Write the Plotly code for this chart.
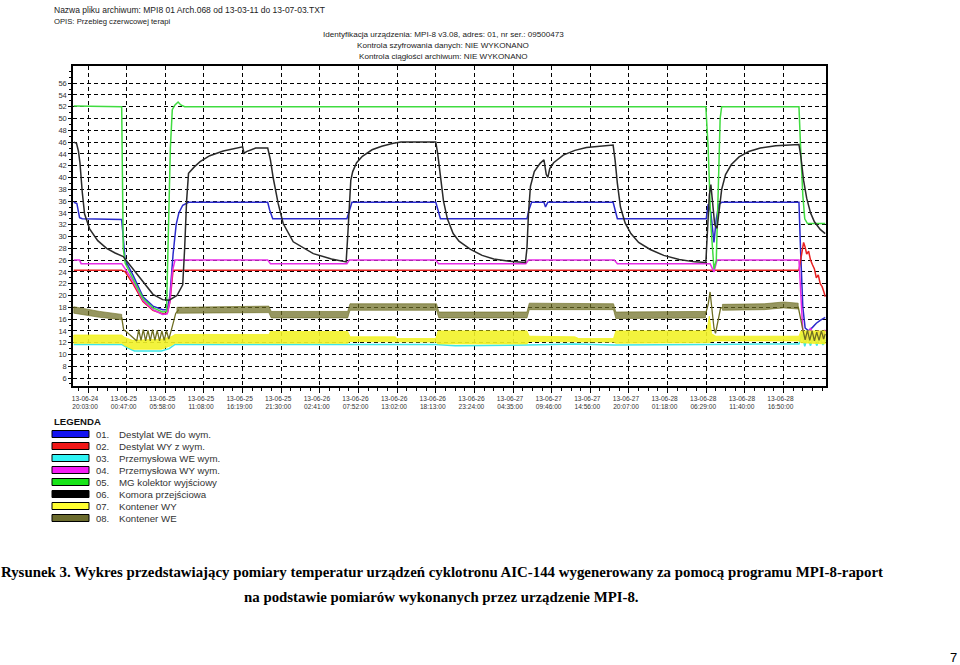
import plotly.graph_objects as go

# ---------------- data (x in grid-interval units, 0 = first tick label) ----------------
tick_labels = ["13-06-24<br>20:03:00", "13-06-25<br>00:47:00", "13-06-25<br>05:58:00", "13-06-25<br>11:08:00",
               "13-06-25<br>16:19:00", "13-06-25<br>21:30:00", "13-06-26<br>02:41:00", "13-06-26<br>07:52:00",
               "13-06-26<br>13:02:00", "13-06-26<br>18:13:00", "13-06-26<br>23:24:00", "13-06-27<br>04:35:00",
               "13-06-27<br>09:46:00", "13-06-27<br>14:56:00", "13-06-27<br>20:07:00", "13-06-28<br>01:18:00",
               "13-06-28<br>06:29:00", "13-06-28<br>11:40:00", "13-06-28<br>16:50:00"]
tick_pos = list(range(19))
y_ticks = list(range(6, 57, 2))

series_names = ["Destylat WE do wym.", "Destylat WY z wym.", "Przemysłowa WE wym.", "Przemysłowa WY wym.",
                "MG kolektor wyjściowy", "Komora przejściowa", "Kontener WY", "Kontener WE"]

blue_x = [-0.37, -0.29, -0.22, -0.15, 0.87, 0.92, 0.96, 1.16, 1.42, 1.68, 1.93, 2.05, 2.12, 2.20, 2.28, 2.35,
          2.45, 2.6, 4.65, 4.70, 4.78, 6.70, 6.76, 6.83, 9.0, 9.05, 9.12, 11.36, 11.41, 11.48, 11.80, 11.84,
          11.90, 13.59, 13.64, 13.70, 16.0, 16.05, 16.12, 16.2, 16.26, 16.33, 16.40, 18.40, 18.44, 18.5,
          18.56, 18.65, 18.75, 18.85, 18.95, 19.08]
blue_y = [35.8, 35.6, 33.2, 33.0, 32.9, 28.5, 26.0, 23.5, 19.8, 18.2, 17.6, 17.6, 20.0, 27.0, 32.0, 34.0,
          35.3, 35.8, 35.8, 34.5, 33.0, 33.0, 34.5, 35.8, 35.8, 34.5, 33.0, 33.0, 34.5, 35.8, 35.8, 35.0,
          35.8, 35.8, 34.5, 33.0, 33.0, 35.5, 34.0, 29.0, 33.0, 35.5, 35.8, 35.8, 28.0, 18.0,
          14.5, 14.0, 14.6, 15.3, 15.8, 16.3]

red_x = [-0.37, 0.87, 0.96, 1.16, 1.42, 1.68, 1.93, 2.05, 2.12, 2.20, 18.40, 18.45, 18.52, 18.56, 18.60,
         18.65, 18.70, 18.75, 18.80, 18.85, 18.90, 18.95, 19.00, 19.05, 19.08]
red_y = [24.3, 24.3, 24.0, 22.0, 19.0, 17.5, 16.9, 17.0, 19.0, 24.3, 24.3, 26.0, 29.0, 28.2, 27.0,
         27.5, 26.0, 25.2, 24.5, 23.0, 23.5, 22.0, 21.5, 20.5, 19.8]

cyan_x = [-0.37, 0.87, 1.0, 1.2, 1.9, 2.1, 2.25, 9.0, 9.5, 11.36, 12.6, 13.6, 16.0, 18.4, 18.48, 18.55,
          18.62, 18.7, 18.78, 18.86, 18.94, 19.02, 19.08]
cyan_y = [11.7, 11.7, 11.2, 10.6, 10.6, 11.0, 11.7, 11.7, 11.5, 11.6, 11.8, 11.6, 11.7, 11.8, 13.5, 11.4,
          13.0, 11.5, 13.2, 11.5, 13.0, 11.6, 12.5]

magenta_x = [-0.37, -0.22, -0.18, 0.87, 0.96, 1.16, 1.42, 1.68, 1.93, 2.05, 2.12, 2.18, 2.25, 4.65, 4.72,
             6.70, 6.76, 9.0, 9.07, 11.33, 11.40, 13.62, 13.70, 16.0, 16.10, 16.2, 16.28, 18.40, 18.45,
             18.5, 18.6, 18.7, 18.8, 18.9, 19.0, 19.08]
magenta_y = [26.0, 26.0, 25.4, 25.4, 24.5, 22.5, 19.2, 17.6, 16.8, 16.9, 19.0, 24.0, 26.0, 26.0, 25.4,
             25.4, 26.0, 26.0, 25.4, 25.4, 26.0, 26.0, 25.4, 25.4, 25.4, 24.0, 26.0, 26.0, 20.0,
             14.0, 12.5, 14.5, 12.8, 14.0, 12.6, 14.2]

green_x = [-0.37, 0.87, 0.89, 0.91, 0.96, 1.16, 1.42, 1.68, 1.93, 2.03, 2.08, 2.13, 2.18, 2.25, 2.33, 2.40,
           2.50, 15.99, 16.05, 16.12, 16.2, 16.26, 16.32, 16.36, 16.40, 18.40, 18.45, 18.50, 18.55, 18.62, 19.08]
green_y = [52.1, 52.0, 40.0, 28.0, 25.5, 23.0, 19.5, 17.9, 17.2, 17.3, 30.0, 45.0, 51.5, 52.3, 52.8, 52.3,
           52.0, 52.0, 45.0, 32.0, 24.5, 26.0, 40.0, 50.0, 52.0, 52.0, 44.0, 37.0, 33.0, 32.2, 32.2]

black_x = [-0.37, -0.30, -0.25, -0.21, -0.15, -0.09, 0.04, 0.25, 0.48, 0.7, 0.91, 1.16, 1.42, 1.68, 1.93,
           2.1, 2.3, 2.45, 2.5, 2.55, 2.6, 2.75, 2.9, 3.15, 3.5, 3.9, 4.0, 4.04, 4.1, 4.34, 4.65, 4.72, 4.79,
           4.92, 5.05, 5.31, 5.83, 6.3, 6.68, 6.72, 6.76, 6.80, 6.85, 6.95, 7.1, 7.35, 7.6, 7.9, 8.1, 9.0,
           9.05, 9.12, 9.2, 9.3, 9.45, 9.6, 9.9, 10.2, 10.5, 10.9, 11.32, 11.36, 11.40, 11.45, 11.55, 11.70,
           11.80, 11.86, 11.90, 11.95, 12.05, 12.3, 12.6, 12.9, 13.3, 13.59, 13.64, 13.70, 13.78, 13.9,
           14.05, 14.25, 14.55, 14.9, 15.3, 15.7, 15.99, 16.04, 16.08, 16.12, 16.16, 16.22, 16.28, 16.33,
           16.40, 16.5, 16.65, 16.85, 17.1, 17.4, 17.8, 18.40, 18.45, 18.52, 18.6, 18.7, 18.8, 18.95, 19.08]
black_y = [46.0, 45.8, 44.5, 42.5, 37.5, 33.8, 31.3, 29.3, 28.0, 27.2, 26.6, 24.5, 22.2, 20.2, 19.3,
           19.2, 20.0, 21.8, 28.0, 36.0, 40.7, 41.8, 42.7, 43.7, 44.5, 45.0, 45.2, 44.1, 44.4, 45.0, 45.0,
           43.0, 40.0, 35.6, 32.2, 29.1, 27.1, 26.2, 25.7, 30.0, 36.0, 39.5, 41.0, 42.5, 43.6, 44.7, 45.3,
           45.8, 46.0, 46.0, 44.0, 40.0, 36.0, 33.0, 30.5, 29.2, 27.8, 26.8, 26.2, 25.8, 25.6, 28.0, 34.0,
           38.5, 41.0, 42.4, 43.0, 40.5, 40.0, 41.5, 42.5, 43.8, 44.6, 45.1, 45.4, 45.5, 43.0, 39.0, 35.0,
           32.3, 30.5, 29.0, 27.8, 26.8, 26.1, 25.7, 25.6, 32.0, 37.0, 38.8, 36.0, 32.0, 31.4, 34.0, 38.0,
           40.5, 42.2, 43.5, 44.4, 45.0, 45.4, 45.6, 43.5, 39.5, 36.5, 34.0, 32.5, 31.2, 30.5]

# noisy series: envelope (low/high) of the noise band, None separates segments
yellow_band_x = [-0.37, 0.87, 0.95, 1.15, 1.9, 2.15, 2.25, 4.68, 4.72, 6.72, 6.78, 7.95, 8.0, 9.0, 9.06, 11.36,
                 11.42, 12.6, 12.7, 13.6, 13.66, 15.98, 16.03, 16.08, 16.14, 16.25, 18.4, 18.45, 19.08]
yellow_band_lo = [11.9, 11.9, 11.5, 10.9, 10.9, 11.5, 11.9, 11.9, 11.9, 11.9, 12.2, 12.2, 12.1, 12.1, 11.8, 11.8,
                  12.2, 12.2, 12.1, 12.1, 11.9, 11.9, 12.0, 12.0, 12.2, 12.3, 12.3, 12.0, 11.8]
yellow_band_hi = [13.3, 13.3, 12.9, 12.4, 12.6, 13.0, 13.4, 13.4, 13.9, 13.9, 13.0, 13.0, 12.7, 12.7, 14.0, 14.0,
                  13.1, 13.0, 12.7, 12.7, 14.0, 14.0, 14.5, 16.5, 13.5, 13.1, 13.1, 14.0, 14.0]

olive_band_x = [-0.37, 0.3, 0.87, None, 2.3, 4.68, 4.74, 6.72, 6.78, 9.02, 9.08, 11.36, 11.42, 13.6, 13.66, 15.98,
                None, 16.42, 17.5, 18.0, 18.38]
olive_band_lo = [17.0, 16.3, 15.9, None, 17.0, 17.1, 16.2, 16.2, 17.5, 17.5, 16.2, 16.2, 17.6, 17.6, 16.1, 16.2,
                 None, 17.5, 17.6, 17.9, 17.7]
olive_band_hi = [18.1, 17.3, 16.8, None, 18.0, 18.2, 17.3, 17.3, 18.6, 18.6, 17.2, 17.2, 18.7, 18.6, 17.2, 17.3,
                 None, 18.5, 18.6, 18.9, 18.7]
olive_line_x = [0.87, 0.92, 1.0, 1.1, 1.2, 1.26, 1.31, 1.37, 1.43, 1.49, 1.55, 1.61, 1.67, 1.73, 1.79, 1.85, 1.91,
                1.97, 2.03, 2.09, 2.15, 2.2, 2.27, 2.35, None,
                15.98, 16.05, 16.1, 16.15, 16.2, 16.24, 16.3, 16.37, 16.42, None,
                18.38, 18.44, 18.5, 18.56, 18.62, 18.68, 18.74, 18.8, 18.86, 18.92, 18.98, 19.04, 19.08]
olive_line_y = [16.3, 14.2, 13.8, 13.2, 12.5, 12.3, 14.2, 12.4, 14.2, 12.3, 14.1, 12.3, 14.2, 12.4, 14.1, 12.3, 14.0,
                12.4, 14.0, 12.6, 14.0, 15.5, 17.0, 17.6, None,
                16.8, 18.5, 20.6, 17.0, 14.5, 13.6, 15.5, 17.8, 18.0, None,
                18.1, 16.0, 14.2, 12.5, 14.1, 12.4, 14.0, 12.3, 13.8, 12.4, 14.0, 12.6, 13.5]

line_colors = ["#2a2acc", "#e82020", "#3ce6e6", "#e62ee6", "#40dc40", "#2a2a2a", "#f2f21e", "#6e6e22"]
band_fill = ["rgba(242,242,40,0.9)", "rgba(110,110,34,0.72)"]
legend_colors = ["#1414f0", "#f01818", "#30f4f4", "#f41cf4", "#18e418", "#000000", "#ffff30", "#6b6b2d"]

# ---------------- layout geometry ----------------
W, H = 960, 665
L, R, T, B = 73, 826, 66, 386


def px(x):
    return (x - L) / (R - L)


def py(y):
    return (B - y) / (B - T)


def band_polygons(xs, lo, hi):
    segs, cur = [], []
    for a, b, c in zip(xs, lo, hi):
        if a is None:
            if cur:
                segs.append(cur)
            cur = []
        else:
            cur.append((a, b, c))
    if cur:
        segs.append(cur)
    px_, py_ = [], []
    for s in segs:
        px_ += [p[0] for p in s] + [p[0] for p in reversed(s)] + [s[0][0], None]
        py_ += [p[2] for p in s] + [p[1] for p in reversed(s)] + [s[0][2], None]
    return px_, py_


fig = go.Figure()
lw = 1.5
plain = [(blue_x, blue_y), (red_x, red_y), (cyan_x, cyan_y), (magenta_x, magenta_y),
         (green_x, green_y), (black_x, black_y)]
for i, (xs, ys) in enumerate(plain):
    fig.add_trace(go.Scatter(x=xs, y=ys, mode="lines", name=series_names[i],
                             line=dict(color=line_colors[i], width=lw), hoverinfo="skip"))

# yellow band
bx, by = band_polygons(yellow_band_x, yellow_band_lo, yellow_band_hi)
fig.add_trace(go.Scatter(x=bx, y=by, mode="lines", fill="toself", fillcolor=band_fill[0],
                         line=dict(color=line_colors[6], width=0.8), name=series_names[6], hoverinfo="skip"))
# olive band + line
bx, by = band_polygons(olive_band_x, olive_band_lo, olive_band_hi)
fig.add_trace(go.Scatter(x=bx, y=by, mode="lines", fill="toself", fillcolor=band_fill[1],
                         line=dict(color="rgba(110,110,34,0.8)", width=0.8), name=series_names[7],
                         hoverinfo="skip"))
fig.add_trace(go.Scatter(x=olive_line_x, y=olive_line_y, mode="lines", connectgaps=False,
                         line=dict(color=line_colors[7], width=1.3), showlegend=False, hoverinfo="skip"))

ann = []
shapes = []
sans = "Liberation Sans, Arial, sans-serif"
ann.append(dict(text="Nazwa pliku archiwum: MPI8 01 Arch.068 od 13-03-11 do 13-07-03.TXT", x=px(52), y=py(10),
                xanchor="left", yanchor="middle", font=dict(family=sans, size=8.5, color="#222")))
ann.append(dict(text="OPIS: Przebieg czerwcowej terapi", x=px(52), y=py(21.5),
                xanchor="left", yanchor="middle", font=dict(family=sans, size=7.7, color="#222")))
for t, yy in [("Identyfikacja urządzenia: MPI-8 v3.08, adres: 01, nr ser.: 09500473", 35),
              ("Kontrola szyfrowania danych: NIE WYKONANO", 45.5),
              ("Kontrola ciągłości archiwum: NIE WYKONANO", 56)]:
    ann.append(dict(text=t, x=px(443), y=py(yy), xanchor="center", yanchor="middle",
                    font=dict(family=sans, size=8.1, color="#222")))

ann.append(dict(text="<b>LEGENDA</b>", x=px(52), y=py(421), xanchor="left", yanchor="middle",
                font=dict(family=sans, size=9.6, color="#111")))
for i, name in enumerate(series_names):
    yc = 434 + 12 * i
    shapes.append(dict(type="rect", xref="paper", yref="paper", x0=px(52), x1=px(89), y0=py(yc + 3.5),
                       y1=py(yc - 3.5), fillcolor=legend_colors[i], line=dict(color="#000", width=1)))
    ann.append(dict(text=f"{i + 1:02d}.", x=px(94), y=py(yc), xanchor="left", yanchor="middle",
                    font=dict(family=sans, size=9.5, color="#333")))
    ann.append(dict(text=name, x=px(117), y=py(yc), xanchor="left", yanchor="middle",
                    font=dict(family=sans, size=9.7, color="#333")))

serif = "Liberation Serif, Times New Roman, serif"
ann.append(dict(text="<b>Rysunek 3. Wykres przedstawiający pomiary temperatur urządzeń cyklotronu AIC-144 "
                     "wygenerowany za pomocą programu MPI-8-raport</b>", x=px(441.5), y=py(572),
                xanchor="center", yanchor="middle", font=dict(family=serif, size=14.85, color="#000")))
ann.append(dict(text="<b>na podstawie pomiarów wykonanych przez urządzenie MPI-8.</b>", x=px(441.5), y=py(597),
                xanchor="center", yanchor="middle", font=dict(family=serif, size=14.85, color="#000")))
ann.append(dict(text="7", x=px(953), y=py(657), xanchor="center", yanchor="middle",
                font=dict(family=sans, size=13, color="#000")))
for a in ann:
    a.update(xref="paper", yref="paper", showarrow=False)

fig.update_layout(
    width=W, height=H, autosize=False,
    margin=dict(l=L, r=W - R, t=T, b=H - B, pad=0),
    paper_bgcolor="white", plot_bgcolor="white",
    showlegend=False,
    annotations=ann, shapes=shapes,
)
fig.update_xaxes(range=[-0.39, 19.1], tickmode="array", tickvals=tick_pos, ticktext=tick_labels,
                 showgrid=True, gridcolor="#000", griddash="4px,3px", gridwidth=1.2,
                 showline=True, linecolor="#000", linewidth=1.5, mirror=True, zeroline=False,
                 ticks="outside", ticklen=5, tickcolor="#000", tickwidth=1, ticklabelshift=-3,
                 tickfont=dict(family=sans, size=6.6, color="#333"),
                 minor=dict(tick0=0, dtick=0.25, ticks="outside", ticklen=3, tickcolor="#000", showgrid=False))
fig.update_yaxes(range=[4.66, 58.9], tickmode="array", tickvals=y_ticks, ticktext=[str(v) for v in y_ticks],
                 showgrid=True, gridcolor="#000", griddash="4px,3px", gridwidth=1.2,
                 showline=True, linecolor="#000", linewidth=1.5, mirror=True, zeroline=False,
                 ticks="outside", ticklen=3, tickcolor="#000", tickwidth=1,
                 tickfont=dict(family=sans, size=7.5, color="#333"),
                 minor=dict(tick0=0, dtick=1, ticks="outside", ticklen=2, tickcolor="#000", showgrid=False))

fig.write_html("out.html")
